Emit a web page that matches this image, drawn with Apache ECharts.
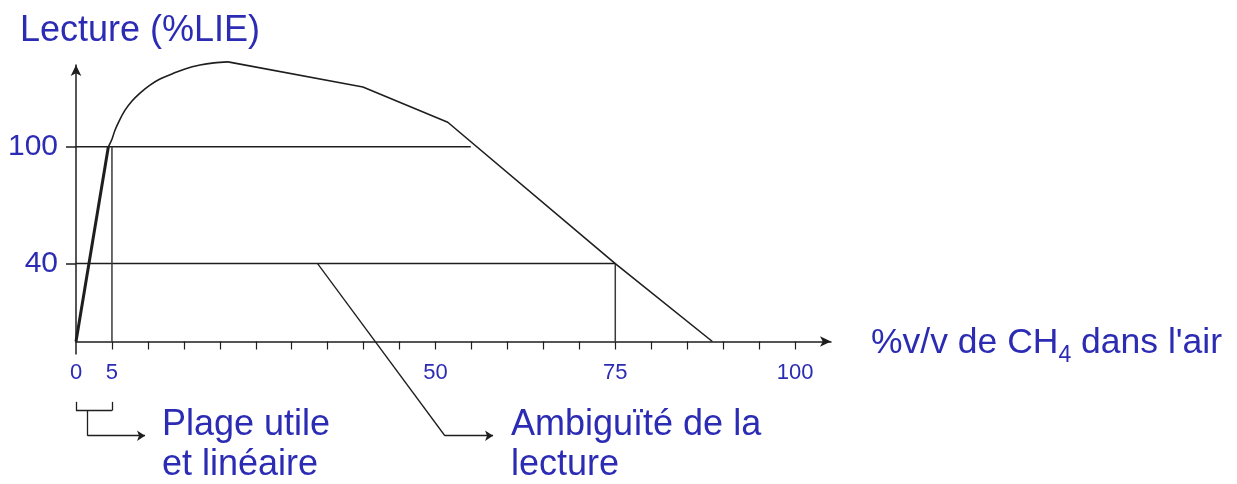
<!DOCTYPE html>
<html>
<head>
<meta charset="utf-8">
<script src="https://cdn.jsdelivr.net/npm/echarts@6/dist/echarts.min.js"></script>
<style>
  html, body { margin: 0; padding: 0; background: #fff; }
  #chart { width: 1237px; height: 484px; }
</style>
</head>
<body>
<div id="chart"></div>
<script>
// Axis ticks and labels (% v/v methane, reading in %LIE)
const xTickValues = [5, 10, 15, 20, 25, 30, 35, 40, 45, 50, 55, 60, 65, 70, 75, 80, 85, 90, 95, 100];
const xLabelValues = [0, 5, 50, 75, 100];
const yLabelValues = [40, 100];

// Detector response: linear up to the LIE, then saturation and fall-off
const linearRange = [[0, 0], [4.5, 100]];
const risingArc = [
  [4.5, 100], [5.0, 103.9], [5.42, 108.5], [5.98, 113.1], [6.82, 118.8], [7.79, 123.5],
  [8.9, 127.6], [10.29, 131.7], [11.68, 134.8], [13.35, 137.4], [15.16, 140], [17.25, 142],
  [19.19, 143.1], [21.14, 143.6]
];
const fallingBranch = [[21.14, 143.6], [39.9, 130.7], [51.7, 112.6], [75, 40], [88.5, 0]];

// Reference levels and their projections on the concentration axis
const level100 = [[0, 100], [54.9, 100]];
const level40 = [[0, 40], [75, 40]];
const drop5 = [[5, 100], [5, 0]];
const drop75 = [[75, 40], [75, 0]];

// Callout leaders (data units, below the axis): plain segments, then arrowed ones
const leaderSegments = [
  [[0, -31], [0, -35.5]],
  [[0, -35.5], [5, -35.5]],
  [[5, -35.5], [5, -31]],
  [[1.6, -35.5], [1.6, -48.4]],
  [[33.6, 40], [51.3, -48.4]]
];
const arrowSegments = [
  [[1.6, -48.4], [9.6, -48.4]],
  [[51.3, -48.4], [58, -48.4]]
];

const BLUE = '#2b2bb4';
const INK = '#1e1e1e';
const FONT = 'Liberation Sans, Arial, sans-serif';

const chart = echarts.init(document.getElementById('chart'), null, { renderer: 'canvas' });

function lineSeries(data, opts) {
  return Object.assign({
    type: 'line',
    data: data,
    symbol: 'none',
    clip: false,
    silent: true,
    animation: false,
    lineStyle: { color: INK, width: 1.5 }
  }, opts || {});
}

function leaders(segments, arrow) {
  return {
    type: 'lines',
    coordinateSystem: 'cartesian2d',
    clip: false,
    silent: true,
    animation: false,
    symbol: arrow ? ['none', 'arrow'] : ['none', 'none'],
    symbolSize: 8,
    lineStyle: { color: INK, width: 1.3, opacity: 1, curveness: 0 },
    itemStyle: { color: INK },
    data: segments.map(function (c) { return { coords: c }; })
  };
}

const option = {
  backgroundColor: '#ffffff',
  animation: false,
  title: {
    text: 'Lecture (%LIE)',
    left: 15,
    top: 8,
    textStyle: { color: BLUE, fontSize: 36, fontWeight: 'normal', fontFamily: FONT }
  },
  grid: {
    left: 76,
    right: 406,
    top: 65,
    bottom: 142.5,
    containLabel: false,
    outerBoundsMode: 'none'
  },
  xAxis: [{
    type: 'value',
    min: 0,
    max: 105,
    name: '%v/v de CH{sub|4} dans l\'air',
    nameLocation: 'end',
    nameGap: 40,
    nameTextStyle: {
      color: BLUE, fontSize: 35.5, fontFamily: FONT, padding: [4, 0, 0, 0],
      rich: {
        sub: { color: BLUE, fontSize: 23, fontFamily: FONT, padding: [24, 0, 0, 0] }
      }
    },
    splitLine: { show: false },
    axisLine: {
      show: true,
      onZero: false,
      symbol: ['none', 'arrow'],
      symbolSize: [8, 11],
      lineStyle: { color: INK, width: 1.5 }
    },
    axisTick: {
      show: true,
      inside: false,
      length: 8,
      customValues: xTickValues,
      lineStyle: { color: INK, width: 1.2 }
    },
    axisLabel: {
      show: true,
      customValues: xLabelValues,
      margin: 20,
      color: BLUE,
      fontSize: 22,
      fontFamily: FONT
    }
  }, {
    // longer tick under the origin
    type: 'value',
    min: 0,
    max: 105,
    position: 'bottom',
    splitLine: { show: false },
    axisLine: { show: false },
    axisLabel: { show: false },
    axisTick: { show: true, length: 13, customValues: [0], lineStyle: { color: INK, width: 1.5 } }
  }],
  yAxis: {
    type: 'value',
    min: 0,
    max: 142,
    splitLine: { show: false },
    axisLine: {
      show: true,
      onZero: false,
      symbol: ['none', 'arrow'],
      symbolSize: [8, 11],
      lineStyle: { color: INK, width: 1.5 }
    },
    axisTick: {
      show: true,
      length: 10,
      customValues: yLabelValues,
      lineStyle: { color: INK, width: 1.5 }
    },
    axisLabel: {
      show: true,
      customValues: yLabelValues,
      margin: 18,
      color: BLUE,
      fontSize: 30,
      fontFamily: FONT
    }
  },
  series: [
    lineSeries(level100),
    lineSeries(level40),
    lineSeries(drop5, { lineStyle: { color: '#3a3a3a', width: 1.5 } }),
    lineSeries(drop75, { lineStyle: { color: '#3a3a3a', width: 1.5 } }),
    lineSeries(linearRange, { lineStyle: { color: INK, width: 3 } }),
    lineSeries(risingArc, { smooth: 0.35, lineStyle: { color: INK, width: 1.6 } }),
    lineSeries(fallingBranch, { lineStyle: { color: INK, width: 1.6 } }),
    leaders(leaderSegments, false),
    leaders(arrowSegments, true)
  ],
  graphic: [
    {
      type: 'text',
      left: 162,
      top: 405,
      style: {
        text: 'Plage utile\net linéaire',
        fill: BLUE,
        font: '36px ' + FONT,
        lineHeight: 40
      }
    },
    {
      type: 'text',
      left: 511,
      top: 405,
      style: {
        text: 'Ambiguïté de la\nlecture',
        fill: BLUE,
        font: '36px ' + FONT,
        lineHeight: 40
      }
    }
  ]
};

chart.setOption(option);
</script>
</body>
</html>
